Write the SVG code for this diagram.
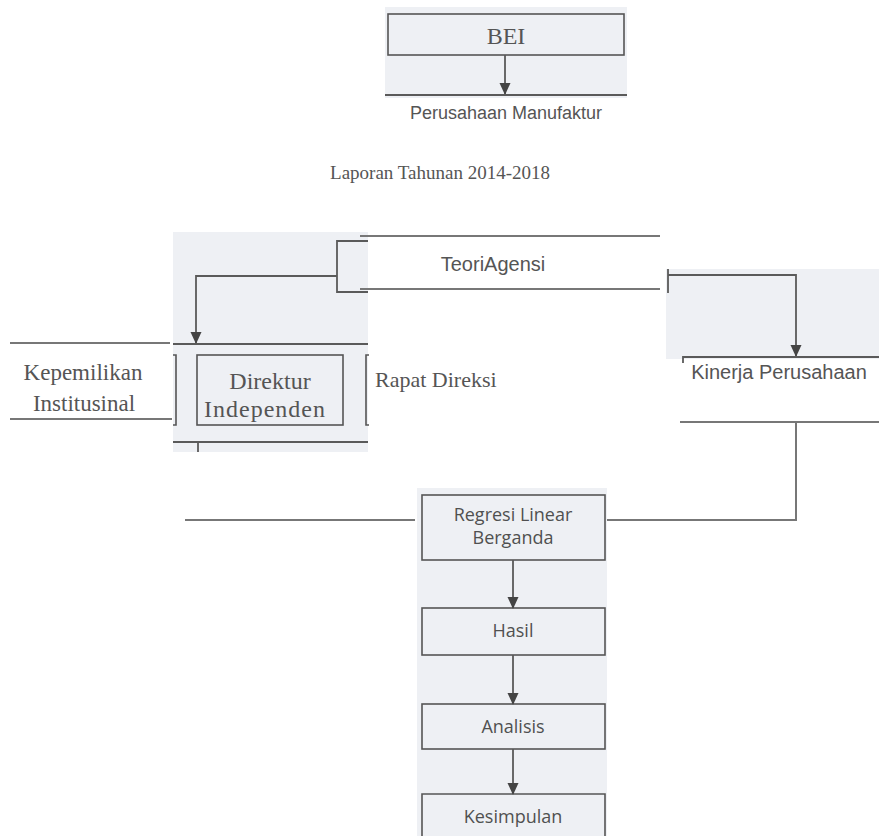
<svg xmlns="http://www.w3.org/2000/svg" width="879" height="836" viewBox="0 0 879 836">
<style>
.bg{fill:#eef0f4;stroke:none}
.box{fill:none;stroke:#555;stroke-width:1.6}
.ln{fill:none;stroke:#5a5a5a;stroke-width:1.8}
.ov{fill:none;stroke:#777;stroke-width:2}
.serif{font-family:"Liberation Serif","DejaVu Serif",serif;fill:#555}
.sans{font-family:"Liberation Sans","DejaVu Sans",sans-serif;fill:#555}
.cal{font-family:"Open Sans","Liberation Sans",sans-serif;fill:#505050;font-size:18px;text-anchor:middle}
</style>
<defs>
<marker id="ah" markerWidth="12" markerHeight="12" refX="11" refY="6" orient="auto" markerUnits="userSpaceOnUse">
<path d="M0,0.5 L12,6 L0,11.5 z" fill="#444"/>
</marker>
</defs>
<rect width="879" height="836" fill="#ffffff"/>
<!-- scanned background pieces -->
<rect class="bg" x="385" y="7" width="242" height="91"/>
<rect class="bg" x="173" y="232" width="195" height="220"/>
<rect class="bg" x="666" y="269" width="213" height="90"/>
<rect class="bg" x="417" y="488" width="190" height="348"/>

<g id="bei">
<rect class="box" x="388" y="14" width="236" height="41"/>
<text class="serif" x="506" y="44" font-size="24" text-anchor="middle" fill="#444">BEI</text>
</g>
<g id="perusahaan">
<text class="sans" x="506" y="119" font-size="18" text-anchor="middle">Perusahaan Manufaktur</text>
</g>
<g id="laporan">
<text class="serif" x="440" y="179" font-size="19" text-anchor="middle">Laporan Tahunan 2014-2018</text>
</g>
<g id="teori">
<text class="sans" x="493" y="271" font-size="20" text-anchor="middle">TeoriAgensi</text>
</g>
<g id="kepemilikan">
<text class="serif" x="83" y="380" font-size="23" text-anchor="middle">Kepemilikan</text>
<text class="serif" x="84" y="411" font-size="23" text-anchor="middle">Institusinal</text>
<path class="box" d="M173,355 H176 V425 H173"/>
</g>
<g id="direktur">
<rect class="box" x="197" y="355" width="146" height="70"/>
<text class="serif" x="270" y="389" font-size="24" text-anchor="middle" fill="#444">Direktur</text>
<text class="serif" x="265" y="417" font-size="24" text-anchor="middle" fill="#444" letter-spacing="1">Independen</text>
</g>
<g id="rapat">
<path class="box" d="M369,355 H366 V425 H369"/>
<text class="serif" x="375" y="387" font-size="22">Rapat Direksi</text>
</g>
<g id="kinerja">
<text class="sans" x="779" y="379" font-size="20" text-anchor="middle">Kinerja Perusahaan</text>
</g>
<g id="regresi">
<rect class="box" x="422" y="495" width="183" height="65"/>
<text class="cal" x="513" y="521">Regresi Linear</text>
<text class="cal" x="513" y="544">Berganda</text>
</g>
<g id="hasil">
<rect class="box" x="422" y="608" width="183" height="47"/>
<text class="cal" x="513" y="637">Hasil</text>
</g>
<g id="analisis">
<rect class="box" x="422" y="704" width="183" height="45"/>
<text class="cal" x="513" y="733">Analisis</text>
</g>
<g id="kesimpulan">
<path class="box" d="M422,840 V794 H605 V840"/>
<text class="cal" x="513" y="823">Kesimpulan</text>
</g>

<g id="connectors">
<line class="ln" x1="505" y1="55" x2="505" y2="94" marker-end="url(#ah)"/>
<line class="ln" x1="385" y1="95" x2="627" y2="95"/>
<path class="ln" d="M368,241 H337 V292 H368"/>
<path class="ln" d="M337,276 H196 V343" marker-end="url(#ah)"/>
<line class="ov" x1="360" y1="236" x2="660" y2="236"/>
<line class="ov" x1="360" y1="289" x2="660" y2="289"/>
<line class="ln" x1="173" y1="344" x2="368" y2="344"/>
<line class="ov" x1="10" y1="343" x2="170" y2="343"/>
<line class="ov" x1="10" y1="419" x2="172" y2="419"/>
<line class="ln" x1="173" y1="442" x2="368" y2="442"/>
<line class="ln" x1="198" y1="442" x2="198" y2="452"/>
<line class="ln" x1="668" y1="269" x2="668" y2="293"/>
<path class="ln" d="M668,275 H796 V356" marker-end="url(#ah)"/>
<path class="ln" d="M683,363 V357 H879"/>
<line class="ov" x1="680" y1="422" x2="879" y2="422"/>
<path class="ov" d="M796,422 V520 H607"/>
<line class="ov" x1="185" y1="520" x2="415" y2="520"/>
<line class="ln" x1="513" y1="560" x2="513" y2="608" marker-end="url(#ah)"/>
<line class="ln" x1="513" y1="655" x2="513" y2="704" marker-end="url(#ah)"/>
<line class="ln" x1="513" y1="749" x2="513" y2="794" marker-end="url(#ah)"/>
</g>
</svg>
